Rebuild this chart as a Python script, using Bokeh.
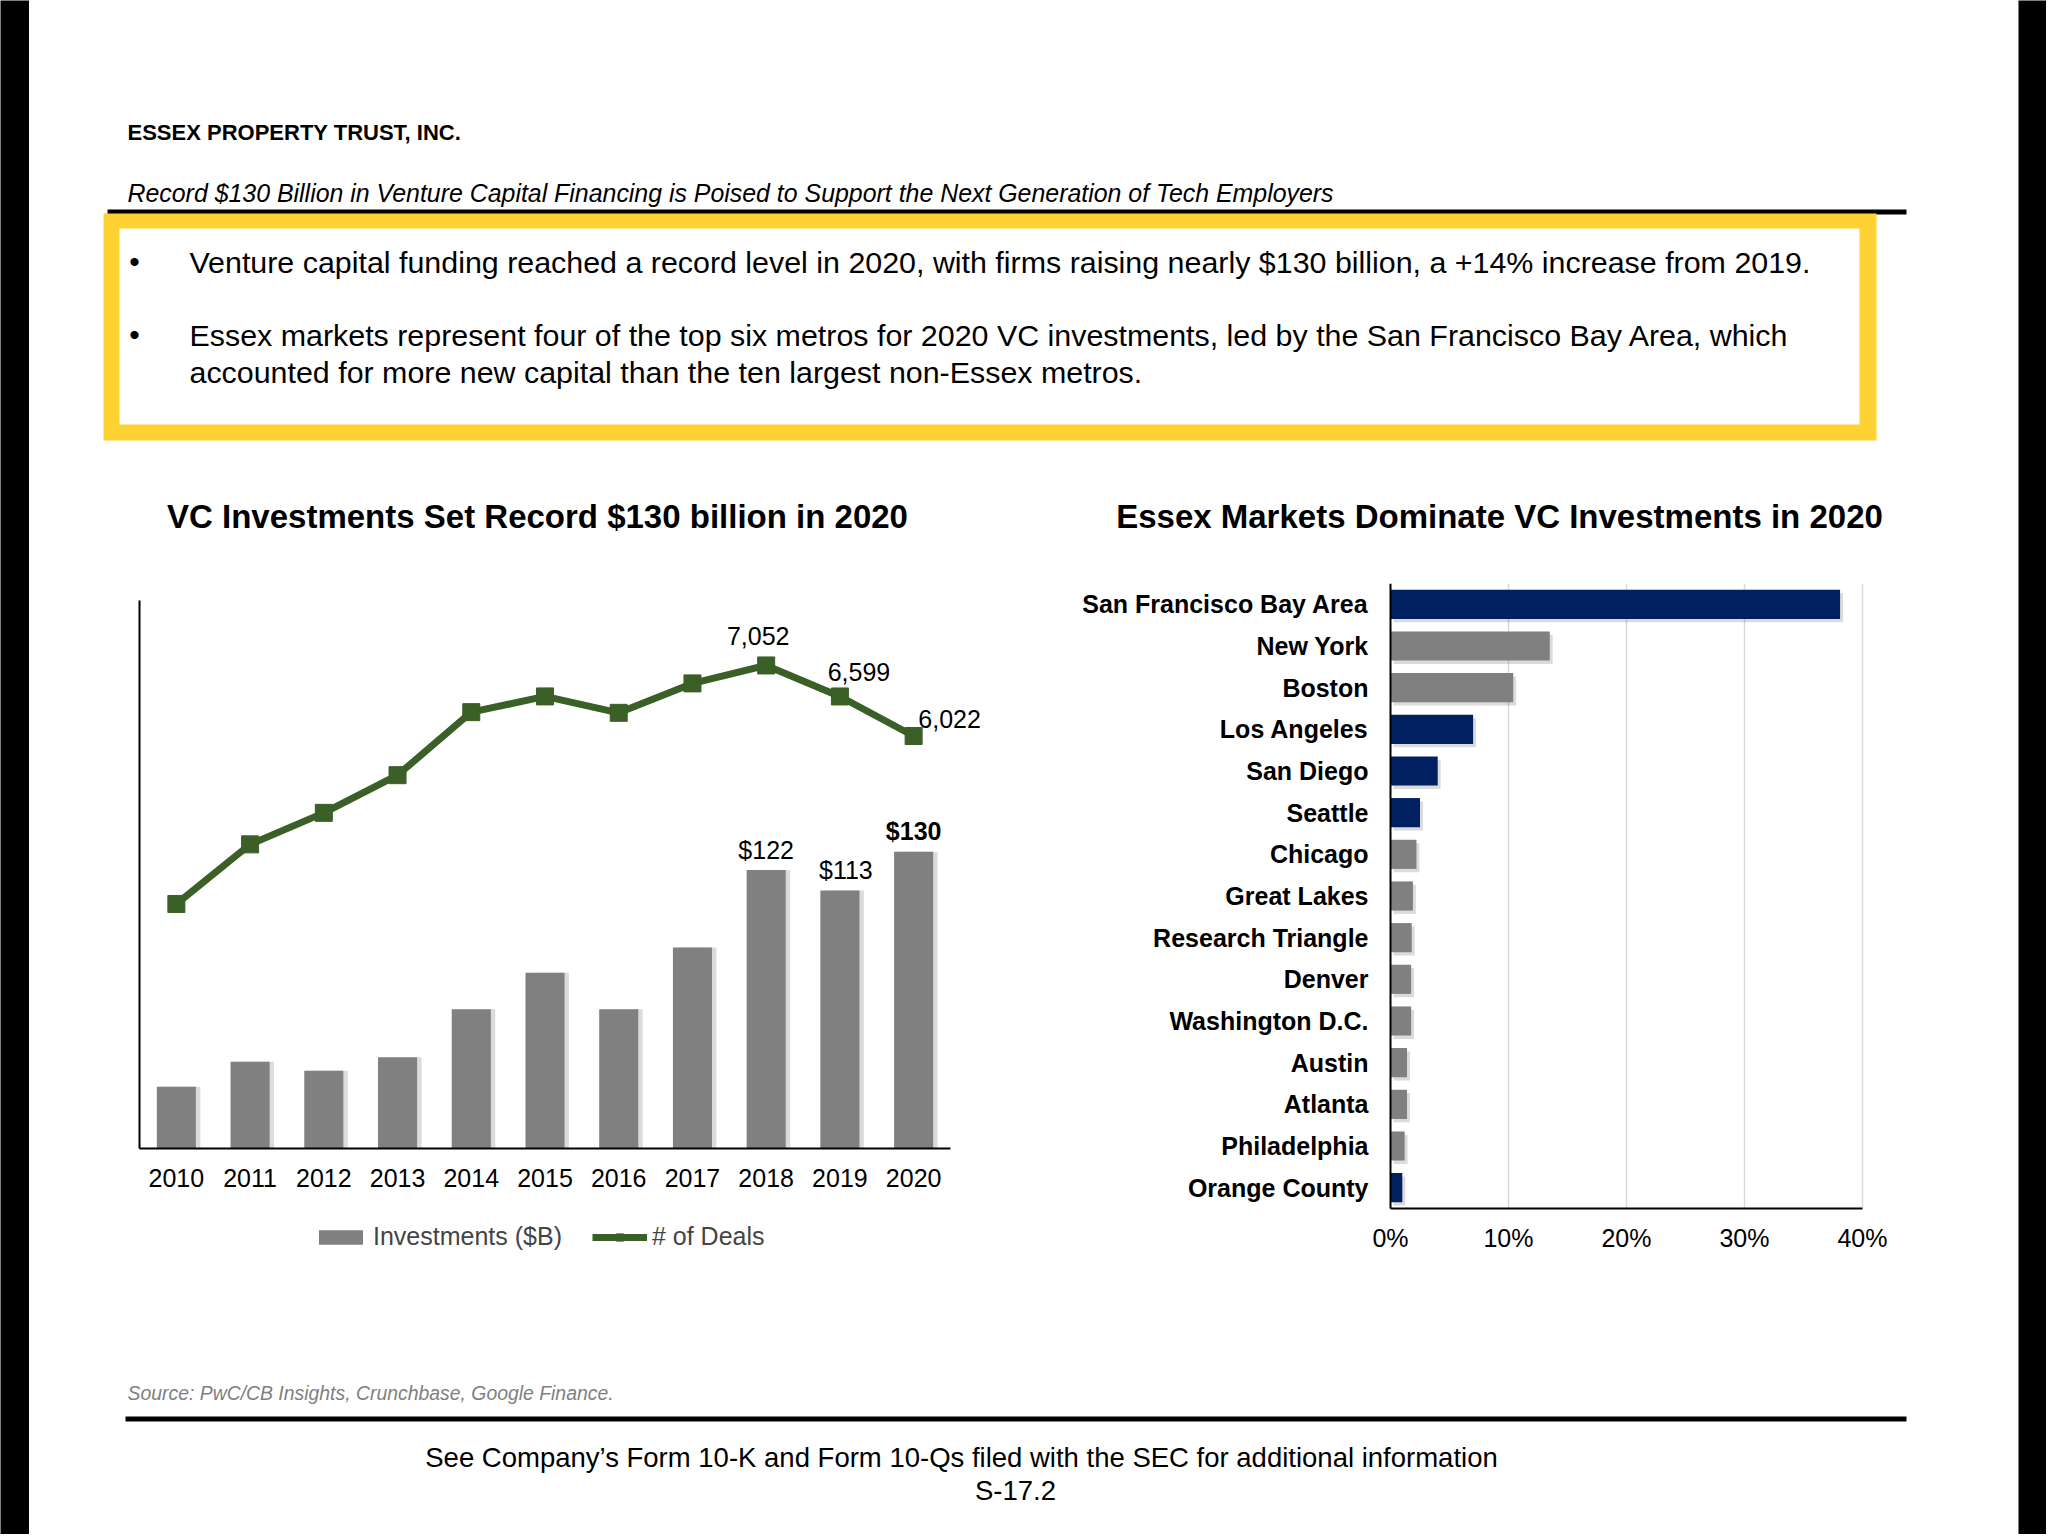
from bokeh.plotting import figure
from bokeh.models import (ColumnDataSource, Range1d, FactorRange, LabelSet, Legend, LegendItem, FixedTicker)
from bokeh.layouts import row, column
from bokeh.transform import dodge
from bokeh.embed import file_html
from bokeh.resources import INLINE
from bokeh.core.properties import value

FONT = "Liberation Sans"

# ---------------- data ----------------
years = ["2010", "2011", "2012", "2013", "2014", "2015", "2016", "2017", "2018", "2019", "2020"]
investments = [27, 38, 34, 40, 61, 77, 61, 88, 122, 113, 130]
deals = [3570, 4440, 4900, 5450, 6370, 6600, 6360, 6790, 7052, 6599, 6022]
labelled_years = ["2018", "2019", "2020"]
inv_axis_max = 240
deals_axis_max = 8000

metros = ["San Francisco Bay Area", "New York", "Boston", "Los Angeles", "San Diego", "Seattle",
          "Chicago", "Great Lakes", "Research Triangle", "Denver", "Washington D.C.", "Austin",
          "Atlanta", "Philadelphia", "Orange County"]
vc_share = [38.1, 13.5, 10.4, 7.0, 4.0, 2.5, 2.2, 1.9, 1.8, 1.75, 1.75, 1.4, 1.4, 1.2, 1.0]
essex_market = [True, False, False, True, True, True, False, False, False, False, False,
                False, False, False, True]
share_ticks = [0, 10, 20, 30, 40]

company = "ESSEX PROPERTY TRUST, INC."
subtitle = "Record $130 Billion in Venture Capital Financing is Poised to Support the Next Generation of Tech Employers"
bullets = [
    ["Venture capital funding reached a record level in 2020, with firms raising nearly $130 billion, a +14% increase from 2019."],
    ["Essex markets represent four of the top six metros for 2020 VC investments, led by the San Francisco Bay Area, which",
     "accounted for more new capital than the ten largest non-Essex metros."],
]
left_title = "VC Investments Set Record $130 billion in 2020"
right_title = "Essex Markets Dominate VC Investments in 2020"
source_note = "Source: PwC/CB Insights, Crunchbase, Google Finance."
footer_lines = ["See Company\u2019s Form 10-K and Form 10-Qs filed with the SEC for additional information", "S-17.2"]

# ---------------- styles ----------------
GREEN = "#3A5F27"
GRAY = "#808080"
NAVY = "#002060"
YELLOW = "#FFD233"

# page geometry (pixels)
HEADER_H, ROW_H, FOOTER_H = 560, 730, 244
FRAME_TOP, FRAME_BOT = 583, 1256          # shared frame of both charts (page y)
L_ZERO, L_TOP = 1148, 600                  # left chart: value 0 and axis max (page y)
R_CAT_BOT = 1208                           # right chart: bottom edge of categories
R_X0, R_X1 = 1390, 1862                    # right chart: 0% and 40% (page x)
R_FIG_X0, R_FIG_X1 = 1010, 2018
R_FRAME_X0, R_FRAME_X1 = 1060, 1900


def page_fig(w, h, y0, y1):
    p = figure(width=w, height=h, x_range=Range1d(29, 2018), y_range=Range1d(y1, y0),
               output_backend="svg", toolbar_location=None, x_axis_type=None, y_axis_type=None,
               min_border=0, min_border_left=0, min_border_right=0, min_border_top=0, min_border_bottom=0)
    p.grid.visible = False
    p.outline_line_color = None
    p.background_fill_color = "white"
    p.border_fill_color = "white"
    return p


def txt(p, x, y, s, size, style="normal", align="left", color="black"):
    p.text(x=[x], y=[y], text=[s], text_font=value(FONT), text_font_size=value(size),
           text_font_style=value(style), text_align=value(align), text_baseline=value("middle"),
           text_color=value(color))


# ---------------- header ----------------
header = page_fig(1989, HEADER_H, 0, HEADER_H)
txt(header, 127, 132, company, "22px", "bold")
txt(header, 127, 192, subtitle, "24.9px", "italic")
header.quad(left=[107], right=[1906], top=[209], bottom=[214], fill_color="black", line_color=None)
header.quad(left=[103], right=[1876], top=[213], bottom=[440], fill_color=YELLOW, line_color=None)
header.quad(left=[119], right=[1859], top=[228], bottom=[424], fill_color="white", line_color=None)
line_y = [[261], [334, 371]]
for lines, ys in zip(bullets, line_y):
    txt(header, 134, ys[0], "\u2022", "30px", align="center")
    for s, yy in zip(lines, ys):
        txt(header, 189, yy, s, "30.4px")
txt(header, 537, 516, left_title, "33px", "bold", "center")
txt(header, 1499, 516, right_title, "33px", "bold", "center")

# ---------------- left chart ----------------
px_per_inv = (L_ZERO - L_TOP) / inv_axis_max
px_per_deal = (L_ZERO - L_TOP) / deals_axis_max
inv_range = Range1d(-(FRAME_BOT - L_ZERO) / px_per_inv, inv_axis_max + (L_TOP - FRAME_TOP) / px_per_inv)
deal_range = Range1d(-(FRAME_BOT - L_ZERO) / px_per_deal, deals_axis_max + (L_TOP - FRAME_TOP) / px_per_deal)
slot_px = (950 - 139) / len(years)
pad = 40 / slot_px

src = ColumnDataSource(dict(year=years, inv=investments, deals=deals))
p1 = figure(width=981, height=ROW_H,
            x_range=FactorRange(factors=years, range_padding=pad, range_padding_units="absolute"),
            y_range=inv_range, output_backend="svg", toolbar_location=None,
            min_border_left=70, min_border_right=20,
            min_border_top=FRAME_TOP - HEADER_H, min_border_bottom=HEADER_H + ROW_H - FRAME_BOT)
p1.extra_y_ranges = {"deals": deal_range}
p1.vbar(x=dodge("year", 0.06, range=p1.x_range), top="inv", bottom=0, width=0.53, source=src,
        fill_color="black", fill_alpha=0.14, line_color=None)
bars = p1.vbar(x="year", top="inv", bottom=0, width=0.53, source=src, fill_color=GRAY, line_color=None)
ln = p1.line(x="year", y="deals", source=src, y_range_name="deals", line_width=7,
             line_color=GREEN, line_join="round")
mk = p1.scatter(x="year", y="deals", source=src, y_range_name="deals", marker="square",
                size=17, fill_color=GREEN, line_color=GREEN)

p1.grid.visible = False
p1.outline_line_color = None
p1.yaxis.fixed_location = 0
p1.yaxis.bounds = (0, inv_axis_max)
p1.yaxis.axis_line_width = 2
p1.yaxis.axis_line_color = "black"
p1.yaxis.major_tick_line_color = None
p1.yaxis.minor_tick_line_color = None
p1.yaxis.major_label_text_color = None
p1.xaxis.fixed_location = 0
p1.xaxis.bounds = (0, len(years))
p1.xaxis.axis_line_width = 2
p1.xaxis.axis_line_color = "black"
p1.xaxis.major_tick_line_color = None
p1.xaxis.major_label_text_font = FONT
p1.xaxis.major_label_text_font_size = "25px"
p1.xaxis.major_label_text_color = "black"
p1.xaxis.major_label_standoff = 14

idx = [years.index(y) for y in labelled_years]
bar_lab = ColumnDataSource(dict(
    x=labelled_years, y=[investments[i] for i in idx],
    text=["$" + str(investments[i]) for i in idx],
    style=["normal", "normal", "bold"], xo=[0, 6, 0], yo=[20, 20, 21]))
p1.add_layout(LabelSet(x="x", y="y", text="text", source=bar_lab, x_offset="xo", y_offset="yo",
                       text_font=value(FONT), text_font_size=value("25px"), text_font_style="style",
                       text_align="center", text_baseline="middle", text_color="black"))
deal_lab = ColumnDataSource(dict(
    x=labelled_years, y=[deals[i] for i in idx],
    text=[f"{deals[i]:,}" for i in idx], xo=[-8, 19, 36], yo=[29, 24, 17]))
p1.add_layout(LabelSet(x="x", y="y", text="text", source=deal_lab, x_offset="xo", y_offset="yo",
                       y_range_name="deals",
                       text_font=value(FONT), text_font_size=value("25px"),
                       text_align="center", text_baseline="middle", text_color="black"))

legend = Legend(items=[LegendItem(label="Investments ($B)", renderers=[bars]),
                       LegendItem(label="# of Deals", renderers=[ln, mk])],
                orientation="horizontal", location=(313 - 99, FRAME_BOT - 1251), border_line_color=None,
                background_fill_alpha=0, label_text_font=FONT, label_text_font_size="25px",
                glyph_width=55, glyph_height=18, label_standoff=5, spacing=30,
                margin=0, padding=0)
p1.add_layout(legend)

# ---------------- right chart ----------------
rank = list(range(len(metros)))
slot_r = (R_CAT_BOT - FRAME_TOP) / len(metros)
px_per_pct = (R_X1 - R_X0) / (share_ticks[-1] - share_ticks[0])
src2 = ColumnDataSource(dict(pos=rank, share=vc_share,
                             shadow_pos=[r + 0.08 for r in rank],
                             shadow=[v + 0.25 for v in vc_share],
                             color=[NAVY if e else GRAY for e in essex_market]))
p2 = figure(width=R_FIG_X1 - R_FIG_X0, height=ROW_H,
            y_range=Range1d(len(metros) - 0.5 + (FRAME_BOT - R_CAT_BOT) / slot_r, -0.5),
            x_range=Range1d(share_ticks[0] - (R_X0 - R_FRAME_X0) / px_per_pct,
                            share_ticks[-1] + (R_FRAME_X1 - R_X1) / px_per_pct),
            output_backend="svg", toolbar_location=None,
            min_border_left=R_FRAME_X0 - R_FIG_X0, min_border_right=R_FIG_X1 - R_FRAME_X1,
            min_border_top=FRAME_TOP - HEADER_H, min_border_bottom=HEADER_H + ROW_H - FRAME_BOT)
p2.grid.visible = False
p2.segment(x0=share_ticks[1:], x1=share_ticks[1:], y0=-0.5, y1=len(metros) - 0.5,
           line_color="#D9D9D9", line_width=1.5)
p2.hbar(y="shadow_pos", left=0.25, right="shadow", height=0.7, source=src2,
        fill_color="black", fill_alpha=0.14, line_color=None)
p2.hbar(y="pos", left=0, right="share", height=0.7, source=src2, fill_color="color", line_color=None)
p2.outline_line_color = None
p2.xaxis.ticker = FixedTicker(ticks=share_ticks)
p2.xaxis.major_label_overrides = {t: f"{t}%" for t in share_ticks}
p2.xaxis.fixed_location = len(metros) - 0.5
p2.xaxis.bounds = (share_ticks[0], share_ticks[-1])
p2.yaxis.ticker = FixedTicker(ticks=rank)
p2.yaxis.major_label_overrides = {r: m for r, m in zip(rank, metros)}
p2.yaxis.fixed_location = share_ticks[0]
p2.yaxis.bounds = (-0.5, len(metros) - 0.5)
for ax in (p2.xaxis, p2.yaxis):
    ax.axis_line_width = 2
    ax.axis_line_color = "black"
    ax.major_tick_line_color = None
    ax.minor_tick_line_color = None
    ax.major_label_text_font = FONT
    ax.major_label_text_font_size = "25px"
    ax.major_label_text_color = "black"
p2.xaxis.major_label_standoff = 9
p2.yaxis.major_label_standoff = 16
p2.yaxis.major_label_text_font_style = "bold"

# ---------------- footer ----------------
f0 = HEADER_H + ROW_H
footer = page_fig(1989, FOOTER_H, f0, f0 + FOOTER_H)
txt(footer, 127, 1392, source_note, "19.4px", "italic", color="#7F7F7F")
footer.quad(left=[125], right=[1906], top=[1416], bottom=[1421], fill_color="black", line_color=None)
txt(footer, 961, 1457, footer_lines[0], "27.5px", align="center")
txt(footer, 1015, 1490, footer_lines[1], "27.5px", align="center")


def band(w):
    b = figure(width=w, height=HEADER_H + ROW_H + FOOTER_H, output_backend="svg", toolbar_location=None,
               x_axis_type=None, y_axis_type=None, min_border=0,
               background_fill_color="black", border_fill_color="black")
    b.outline_line_color = None
    b.grid.visible = False
    return b


layout = row(band(29), column(header, row(p1, p2, spacing=0), footer, spacing=0), band(28), spacing=0)
open("out.html", "w").write(file_html(layout, INLINE))
